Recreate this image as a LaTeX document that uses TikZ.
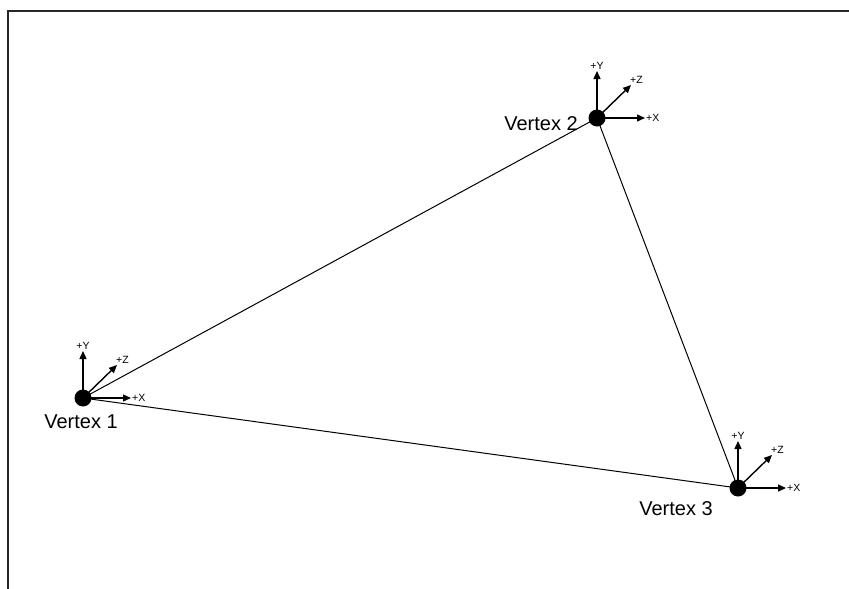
\documentclass[tikz,border=0pt]{standalone}
\usepackage{fontspec}
\setmainfont{Liberation Sans}
\usetikzlibrary{arrows.meta}
\begin{document}
\begin{tikzpicture}[x=1pt,y=-1pt,
  vdot/.style={circle,fill=black,inner sep=0pt,minimum size=17pt},
  edge/.style={line width=1pt},
  axis/.style={line width=1.4pt,-{Triangle[length=8pt,width=7pt]}},
  axlab/.style={font=\fontsize{10.5}{10.5}\selectfont,inner sep=1pt},
  vlab/.style={font=\fontsize{20}{20}\selectfont,inner sep=0pt},
  frame/.style={line width=2pt,draw=black!85}]
\useasboundingbox (0,0) rectangle (849,589);
\draw[frame] (8,589) -- (8,10.5) -- (849,10.5);
% vertices
\node[vdot] (v1) at (83,398) {};
\node[vdot] (v2) at (597,118) {};
\node[vdot] (v3) at (738,488) {};
% triangle
\draw[edge] (v1.center) -- (v2.center);
\draw[edge] (v2.center) -- (v3.center);
\draw[edge] (v3.center) -- (v1.center);
% axes vertex 1
\coordinate (v1x) at (131,398);
\coordinate (v1y) at (83,351);
\coordinate (v1z) at (117,365);
\draw[axis] (v1.center) -- (v1x);
\draw[axis] (v1.center) -- (v1y);
\draw[axis] (v1.center) -- (v1z);
\node[axlab,anchor=west] (l1x) at (v1x) {+X};
\node[axlab,anchor=south] (l1y) at (v1y) {+Y};
\node[axlab,anchor=south west,xshift=-2pt] (l1z) at (v1z) {+Z};
% axes vertex 2
\coordinate (v2x) at (645,118);
\coordinate (v2y) at (597,71);
\coordinate (v2z) at (631,85);
\draw[axis] (v2.center) -- (v2x);
\draw[axis] (v2.center) -- (v2y);
\draw[axis] (v2.center) -- (v2z);
\node[axlab,anchor=west] (l2x) at (v2x) {+X};
\node[axlab,anchor=south] (l2y) at (v2y) {+Y};
\node[axlab,anchor=south west,xshift=-2pt] (l2z) at (v2z) {+Z};
% axes vertex 3
\coordinate (v3x) at (786,488);
\coordinate (v3y) at (738,441);
\coordinate (v3z) at (772,455);
\draw[axis] (v3.center) -- (v3x);
\draw[axis] (v3.center) -- (v3y);
\draw[axis] (v3.center) -- (v3z);
\node[axlab,anchor=west] (l3x) at (v3x) {+X};
\node[axlab,anchor=south] (l3y) at (v3y) {+Y};
\node[axlab,anchor=south west,xshift=-2pt] (l3z) at (v3z) {+Z};
% labels
\node[vlab] (t1) at (81,422) {Vertex 1};
\node[vlab] (t2) at (541,124) {Vertex 2};
\node[vlab] (t3) at (676,509) {Vertex 3};
\end{tikzpicture}
\end{document}
